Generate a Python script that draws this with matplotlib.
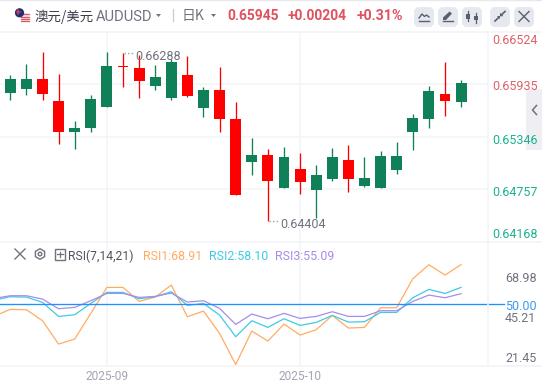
import matplotlib
matplotlib.use("Agg")
import matplotlib.pyplot as plt
from matplotlib.patches import FancyBboxPatch, Circle, Rectangle, Polygon, RegularPolygon

# ---------- data ----------
opens = [0.65839,0.65880,0.65992,0.65746,0.65399,0.65444,0.65679,0.66138,0.66115,0.65914,0.65780,0.66037,0.65668,0.65869,0.65545,0.65063,0.65142,0.64776,0.64985,0.64750,0.64873,0.65086,0.64795,0.64772,0.64974,0.65399,0.65545,0.65824,0.65735]
closes = [0.65992,0.65992,0.65824,0.65399,0.65444,0.65768,0.66138,0.66127,0.65970,0.66015,0.66183,0.65802,0.65869,0.65545,0.64694,0.65142,0.64851,0.65119,0.64840,0.64918,0.65119,0.64873,0.64884,0.65131,0.65131,0.65556,0.65858,0.65746,0.65945]
highs = [0.66037,0.66160,0.66295,0.66048,0.65522,0.65813,0.66295,0.66288,0.66261,0.66149,0.66216,0.66250,0.65903,0.66127,0.65735,0.65332,0.65209,0.65231,0.65164,0.65030,0.65220,0.65254,0.65119,0.65187,0.65287,0.65601,0.65914,0.66183,0.65981]
lows = [0.65757,0.65813,0.65757,0.65265,0.65209,0.65399,0.65679,0.65903,0.65780,0.65869,0.65757,0.65791,0.65567,0.65399,0.64694,0.64918,0.64404,0.64776,0.64705,0.64437,0.64851,0.64728,0.64784,0.64772,0.64929,0.65198,0.65444,0.65578,0.65679]
price_ticks = ["0.66524", "0.65935", "0.65346", "0.64757", "0.64168"]

rsi_index = list(range(-1, 29))
rsi1 = [44.46,47.63,47.47,42.24,31.16,33.54,45.73,58.07,58.07,51.42,53.48,59.18,44.14,46.83,36.23,21.45,37.34,32.59,40.66,35.44,37.97,44.78,38.76,39.08,48.42,48.42,62.19,68.84,63.93,68.91]
rsi2 = [52.06,53.64,53.48,50.95,44.30,45.09,50.47,55.70,55.70,52.69,53.64,56.02,49.53,50.47,44.93,34.64,42.24,39.08,43.19,40.03,41.45,44.78,41.61,41.77,46.20,46.20,53.17,57.12,55.22,58.10]
rsi3 = [52.85,54.12,54.12,52.53,47.94,48.58,51.74,55.22,55.22,53.32,53.80,55.38,51.11,51.74,48.10,40.50,45.41,43.19,45.73,43.35,44.30,46.52,44.30,44.30,46.99,46.99,51.42,54.43,53.17,55.09]
rsi_ticks = ["68.98", "50.00", "45.21", "21.45"]
date_labels = ["2025-09", "2025-10"]
date_index = [6, 18]

# ---------- style ----------
W, H = 542, 387
UP, DOWN = "#0f8058", "#ff0000"
GRID = "#f3f4f7"
GREY = "#70737f"
FONT = ["Roboto", "Noto Sans CJK SC", "DejaVu Sans"]
CJK = ["Noto Sans CJK SC", "DejaVu Sans"]
plt.rcParams["font.family"] = FONT

fig = plt.figure(figsize=(W / 100, H / 100), dpi=100, facecolor="white")

def px_axes(x0, y0, x1, y1, **kw):
    return fig.add_axes([x0 / W, 1 - y1 / H, (x1 - x0) / W, (y1 - y0) / H], **kw)

XLIM = (-0.64, 29.69)

# ---------- candlesticks ----------
ax = px_axes(0, 31.5, 488.3, 242, facecolor="none")
ax.set_xlim(*XLIM)
ax.set_ylim(0.64168, 0.66524)
ax.set_xticks(date_index)
ax.set_yticks([0.65935, 0.65346, 0.64757])
ax.grid(True, color=GRID, lw=1.1)
ax.set_axisbelow(True)
ax.tick_params(left=False, bottom=False, labelleft=False, labelbottom=False)
for s in ax.spines.values():
    s.set_visible(False)

for i, (o, c, h, l) in enumerate(zip(opens, closes, highs, lows)):
    col = UP if c >= o else DOWN
    ax.vlines(i, l, h, color=col, lw=0.95, zorder=2)
    ax.bar(i, abs(c - o), bottom=min(o, c), width=0.68, color=col, zorder=3, linewidth=0)

# ---------- RSI ----------
ax2 = px_axes(0, 242, 488.3, 366.3, facecolor="none")
ax2.set_xlim(*XLIM)
ax2.set_ylim(20.6, 79.64)
ax2.set_xticks(date_index)
ax2.set_yticks([])
ax2.grid(True, axis="x", color=GRID, lw=1.1)
ax2.set_axisbelow(True)
ax2.tick_params(left=False, bottom=False, labelleft=False, labelbottom=False)
for s in ax2.spines.values():
    s.set_visible(False)
ax2.plot(rsi_index, rsi1, color="#ffac62", lw=0.9, zorder=3)
ax2.plot(rsi_index, rsi2, color="#3fcbe2", lw=0.9, zorder=3)
ax2.plot(rsi_index, rsi3, color="#a88cea", lw=0.9, zorder=3)
ax2.plot([0, 1.032], [50, 50], color="#1e90ff", lw=0.95, zorder=4,
         transform=ax2.get_yaxis_transform(), clip_on=False)

# ---------- overlay in pixel coordinates ----------
ov = fig.add_axes([0, 0, 1, 1], facecolor="none")
ov.set_xlim(0, W)
ov.set_ylim(H, 0)
ov.axis("off")

def T(x, y, s, size=9, color=GREY, ha="left", weight="normal", family=None):
    ov.text(x, y, s, fontsize=size, color=color, ha=ha, va="center_baseline",
            fontweight=weight, family=family or FONT)

# frame lines
ov.plot([0, W], [31.5, 31.5], color=GRID, lw=1.2)
ov.plot([0, W], [242, 242], color=GRID, lw=1.2)
ov.plot([0, W], [366.3, 366.3], color=GRID, lw=1.2)
ov.plot([488.3, 488.3], [31.5, 366.3], color=GRID, lw=1.1)
ov.plot([0, W], [0.3, 0.3], color="#e6e8ee", lw=1)

# price labels
RED_L, GRN_L = "#e0606a", "#1bb191"
for s, y, c in zip(price_ticks, [39.5, 85.5, 138.5, 191.5, 233], [RED_L, RED_L, GRN_L, GRN_L, GRN_L]):
    T(492, y, s, size=9, color=c)

# high / low notes
ov.plot([124, 134], [52.6, 52.6], color="#9a9ca6", lw=1, ls=(0, (1, 1.6)))
T(135, 54.8, "0.66288", size=9)
ov.plot([268.5, 279], [220.9, 220.9], color="#9a9ca6", lw=1, ls=(0, (1, 1.6)))
T(280, 223.5, "0.64404", size=9)

# RSI labels
for s, y, c in zip(rsi_ticks, [276.7, 305.3, 316.8, 357.3], [GREY, "#3a9bf0", GREY, GREY]):
    T(505, y, s, size=9, color=c)
for s, x in zip(date_labels, [107.3, 300.3]):
    T(x, 374.5, s, size=8.6, color="#a3a6b2", ha="center")

# header
T(34, 15, "澳元/美元", size=9.7, color="#3a3d47", family=CJK)
T(96, 15.5, "AUDUSD", size=10.6, color=GREY)
ov.add_patch(Polygon([[156, 14], [161, 14], [158.5, 17]], color=GREY, lw=0))
ov.plot([172.5, 172.5], [9, 21], color="#c8cbd3", lw=0.9)
T(182, 14.5, "日K", size=10, color=GREY, family=CJK)
ov.add_patch(Polygon([[211, 14], [216, 14], [213.5, 17]], color=GREY, lw=0))
T(227, 14.5, "0.65945", size=10, color="#e0525f", weight="bold")
T(288, 14.5, "+0.00204", size=10, color="#e0525f", weight="bold")
T(357, 14.5, "+0.31%", size=10.2, color="#e0525f", weight="bold")

# flag
ov.add_patch(Circle((25, 17.5), 4.8, color="#e9e9ee", lw=0, zorder=5))
for yy in (14, 16.5, 19, 21.3):
    ov.plot([20.8, 29.2], [yy, yy], color="#e2575f", lw=0.9, zorder=6)
ov.add_patch(Circle((19.5, 12.8), 4.6, color="#1c2f78", lw=0, zorder=7))
ov.plot([16.5, 19.5], [11.5, 11.5], color="#d8404a", lw=1.1, zorder=8)
ov.plot([18, 18], [9.5, 13.5], color="#d8404a", lw=1.1, zorder=8)

# toolbar buttons
ICON = "#5b5f6b"
for x0 in (414, 438, 462, 490, 514):
    ov.add_patch(FancyBboxPatch((x0 + 2, 9), 16, 16, boxstyle="round,pad=0,rounding_size=3",
                                mutation_aspect=1, fc="#e5e8ef", ec="#e5e8ef", lw=2.8))
ov.plot([419, 422, 424.5, 426.5, 429], [18, 14, 16.5, 15, 17], color=ICON, lw=1)
ov.plot([419, 429], [21, 21], color=ICON, lw=1)
ov.add_patch(Polygon([[443, 20], [443, 17.5], [449.5, 11.5], [452, 13.5], [446, 20]], color=ICON, lw=0))
ov.plot([443, 453], [21.2, 21.2], color=ICON, lw=1)
for xx, a, b, c, d in ((468, 11, 13.5, 19, 21), (476, 13, 15.5, 20, 22.5)):
    ov.plot([xx, xx], [a, d], color=ICON, lw=0.9)
    ov.add_patch(Rectangle((xx - 2.2, b), 4.4, c - b, color=ICON, lw=0))
ov.plot([495, 499], [21, 17.2], color=ICON, lw=1.2)
ov.plot([501, 505], [15.2, 11.5], color=ICON, lw=1.2)
ov.add_patch(Polygon([[496.5, 15.5], [500, 15.5], [500, 19]], color=ICON, lw=0))
ov.add_patch(Polygon([[500, 16.2], [500, 12.8], [503.5, 16.2]], color=ICON, lw=0))
ov.plot([519, 529], [11.5, 21.5], color=ICON, lw=1)
ov.plot([529, 519], [11.5, 21.5], color=ICON, lw=1)

# collapse tab
ov.add_patch(Rectangle((526, 89), 16, 61, fc="#eeeef3", ec="none", zorder=1))
ov.plot([536.5, 532.5, 536.5], [105.5, 110, 114.5], color=GREY, lw=1.1, zorder=2)

# RSI header
ov.plot([15, 25], [249, 259], color=GREY, lw=1)
ov.plot([25, 15], [249, 259], color=GREY, lw=1)
ov.add_patch(RegularPolygon((40, 254), 6, radius=5.3, fc="none", ec=GREY, lw=1))
ov.add_patch(Circle((40, 254), 1.8, fc="none", ec=GREY, lw=1))
ov.add_patch(Rectangle((54.5, 249), 10.5, 10.5, fc="none", ec=GREY, lw=1))
ov.plot([57, 62.5], [254.2, 254.2], color=GREY, lw=0.9)
ov.plot([59.8, 59.8], [251.5, 257], color=GREY, lw=0.9)
T(68, 254.5, "RSI(7,14,21)", size=8.7, color="#50535e")
T(143, 254.5, "RSI1:68.91", size=8.9, color="#ffac62")
T(209.5, 254.5, "RSI2:58.10", size=8.9, color="#3fcbe2")
T(275, 254.5, "RSI3:55.09", size=8.9, color="#a88cea")

fig.savefig("out.png", dpi=100, facecolor="white")
